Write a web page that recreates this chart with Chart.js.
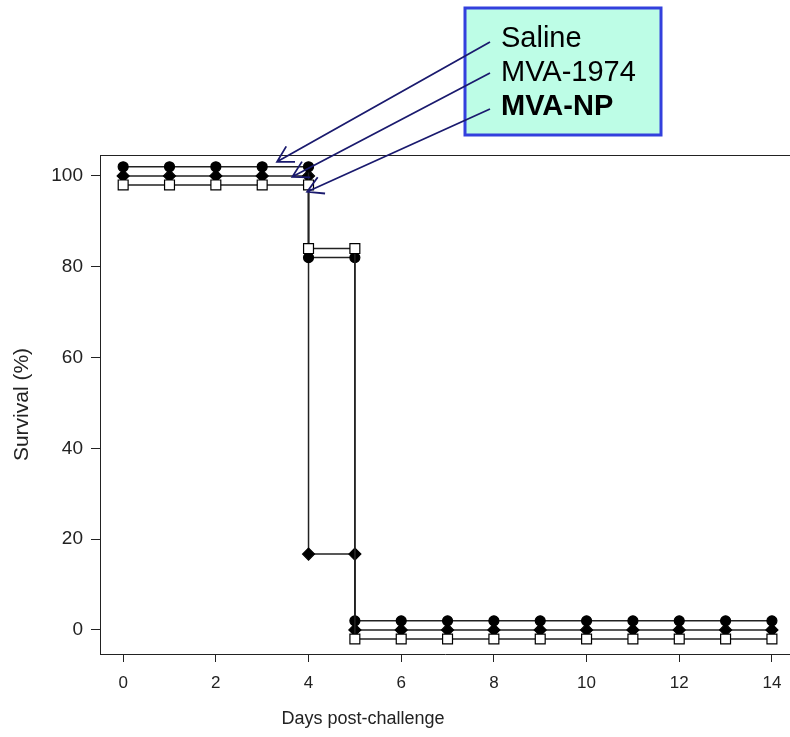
<!DOCTYPE html>
<html>
<head>
<meta charset="utf-8">
<script src="https://cdn.jsdelivr.net/npm/chart.js@4.4.1/dist/chart.umd.min.js"></script>
<style>
  body { margin: 0; background: #fff; overflow: hidden; }
  canvas { display: block; }
</style>
</head>
<body>
<canvas id="chart" width="790" height="737"></canvas>
<script>
// survival curves, each group drawn slightly offset so the lines do not overlap
const days = [0, 1, 2, 3, 4, 4, 5, 5, 6, 7, 8, 9, 10, 11, 12, 13, 14];
const saline = [102, 102, 102, 102, 102, 82, 82, 2, 2, 2, 2, 2, 2, 2, 2, 2, 2];
const mva1974 = [100, 100, 100, 100, 100, 16.7, 16.7, 0, 0, 0, 0, 0, 0, 0, 0, 0, 0];
const mvaNP = [98, 98, 98, 98, 98, 84, 84, -2, -2, -2, -2, -2, -2, -2, -2, -2, -2];

const xTicks = [0, 2, 4, 6, 8, 10, 12, 14];
const yTicks = [0, 20, 40, 60, 80, 100];
const groupNames = ['Saline', 'MVA-1974', 'MVA-NP'];
// where each callout arrow points (day, survival)
const arrowTips = [[3.32, 103.1], [3.65, 99.8], [3.97, 96.5]];

const toPoints = (vals) => days.map((d, i) => ({x: d, y: vals[i]}));

Chart.defaults.font.family = '"Liberation Sans", Arial, sans-serif';
Chart.defaults.color = '#222';

// legend box with arrows pointing at the curves, top frame line, x title
const callouts = {
  id: 'callouts',
  afterDraw(chart) {
    const ctx = chart.ctx;
    const area = chart.chartArea;
    const xs = chart.scales.x, ys = chart.scales.y;

    ctx.save();
    ctx.strokeStyle = '#222';
    ctx.lineWidth = 1;
    ctx.beginPath();
    ctx.moveTo(area.left, area.top + 0.5);
    ctx.lineTo(area.right, area.top + 0.5);
    ctx.stroke();

    ctx.fillStyle = '#222';
    ctx.font = '18px "Liberation Sans", Arial, sans-serif';
    ctx.textAlign = 'center';
    ctx.textBaseline = 'middle';
    ctx.fillText('Days post-challenge', 363, 719);

    // box
    ctx.fillStyle = '#bdfde6';
    ctx.fillRect(465, 8, 196, 127);
    ctx.strokeStyle = '#3340dd';
    ctx.lineWidth = 3;
    ctx.strokeRect(465, 8, 196, 127);

    // arrows
    const starts = [42, 73, 109];
    ctx.strokeStyle = '#1a1a6e';
    ctx.lineWidth = 1.8;
    arrowTips.forEach((t, i) => {
      const tx = xs.getPixelForValue(t[0]);
      const ty = ys.getPixelForValue(t[1]);
      const sx = 490, sy = starts[i];
      const ang = Math.atan2(sy - ty, sx - tx);
      ctx.beginPath();
      ctx.moveTo(sx, sy);
      ctx.lineTo(tx, ty);
      ctx.moveTo(tx + 18 * Math.cos(ang - 0.52), ty + 18 * Math.sin(ang - 0.52));
      ctx.lineTo(tx, ty);
      ctx.lineTo(tx + 18 * Math.cos(ang + 0.52), ty + 18 * Math.sin(ang + 0.52));
      ctx.stroke();
    });

    // labels
    ctx.fillStyle = '#000';
    ctx.textBaseline = 'alphabetic';
    ctx.textAlign = 'left';
    groupNames.forEach((name, i) => {
      ctx.font = (i === 2 ? 'bold ' : '') + '29px "Liberation Sans", Arial, sans-serif';
      ctx.fillText(name, 501, 47 + i * 34);
    });
    ctx.restore();
  }
};

const lineStyle = {
  showLine: true,
  borderColor: '#222',
  borderWidth: 1.5,
  pointBorderColor: '#000',
  pointBorderWidth: 1.2
};

new Chart(document.getElementById('chart'), {
  type: 'scatter',
  data: {
    datasets: [
      Object.assign({
        label: groupNames[0],
        data: toPoints(saline),
        pointStyle: 'circle',
        pointRadius: 5,
        pointBackgroundColor: '#000',
        order: 1
      }, lineStyle),
      Object.assign({
        label: groupNames[1],
        data: toPoints(mva1974),
        pointStyle: 'rectRot',
        pointRadius: 6,
        pointBackgroundColor: '#000',
        order: 2
      }, lineStyle),
      Object.assign({
        label: groupNames[2],
        data: toPoints(mvaNP),
        pointStyle: 'rect',
        pointRadius: 7,
        pointBackgroundColor: '#fff',
        order: 0
      }, lineStyle)
    ]
  },
  options: {
    responsive: false,
    animation: false,
    layout: { autoPadding: false, padding: { top: 155, right: 0, left: 0, bottom: 0 } },
    plugins: { legend: { display: false }, tooltip: { enabled: false } },
    scales: {
      x: {
        type: 'linear',
        min: -0.5,
        max: 14.39,
        afterBuildTicks: (s) => { s.ticks = xTicks.map(v => ({value: v})); },
        afterFit: (s) => { s.height = 83; s.paddingLeft = 0; s.paddingRight = 0; },
        grid: { drawOnChartArea: false, drawTicks: true, tickLength: 8, color: '#222' },
        border: { color: '#222', width: 1 },
        ticks: { font: { size: 17 }, padding: 11, maxRotation: 0 },
        title: { display: false }
      },
      y: {
        min: -5.3,
        max: 104.6,
        afterBuildTicks: (s) => { s.ticks = yTicks.map(v => ({value: v})); },
        afterFit: (s) => { s.width = 100; s.paddingTop = 0; s.paddingBottom = 0; },
        grid: { drawOnChartArea: false, drawTicks: true, tickLength: 9, color: '#222' },
        border: { color: '#222', width: 1 },
        ticks: { font: { size: 19 }, padding: 8 },
        title: { display: true, text: 'Survival (%)', font: { size: 21 }, padding: { top: 10, bottom: 0 } }
      }
    }
  },
  plugins: [callouts]
});
</script>
</body>
</html>
